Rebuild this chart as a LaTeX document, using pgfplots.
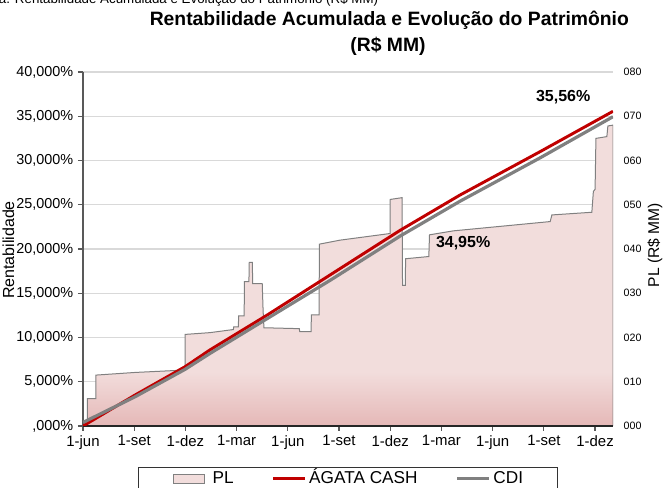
\documentclass[border=0pt]{standalone}
\usepackage{pgfplots}
\pgfplotsset{compat=1.18}
\usepackage{fontspec}
\setmainfont{Liberation Sans}
\definecolor{pllight}{RGB}{242,221,220}
\definecolor{pldark}{RGB}{229,184,183}
\definecolor{plline}{RGB}{128,128,128}
\definecolor{agred}{RGB}{192,0,0}
\definecolor{cdigray}{RGB}{128,128,128}
\definecolor{gridgray}{RGB}{217,217,217}
\definecolor{axisgray}{RGB}{89,89,89}
\pgfdeclareverticalshading{plshade}{100bp}{color(0bp)=(pldark); color(25bp)=(pldark); color(34bp)=(pllight); color(100bp)=(pllight)}
\begin{document}
\begin{tikzpicture}[x=1pt,y=1pt]
\useasboundingbox (0,0) rectangle (498.75,366);
\node[anchor=base west, font=\fontsize{10}{12}\selectfont, inner sep=0pt] at (-1,363.6) {a. Rentabilidade Acumulada e Evolução do Patrimônio (R\$ MM)};
\node[anchor=base, font=\fontsize{14.5}{17}\selectfont\bfseries, inner sep=0pt] at (292,346.5) {Rentabilidade Acumulada e Evolução do Patrimônio};
\node[anchor=base, font=\fontsize{14.5}{17}\selectfont\bfseries, inner sep=0pt] at (291,327.5) {(R\$ MM)};

\begin{axis}[
  at={(62.25pt,46.5pt)}, anchor=south west, scale only axis,
  width=397.5pt, height=265.5pt,
  xmin=0, xmax=31.05, ymin=0, ymax=80,
  hide x axis,
  axis y line*=right,
  y axis line style={draw=none},
  ytick={0,10,...,80},
  yticklabels={000,010,020,030,040,050,060,070,080},
  major tick length=0pt,
  ymajorgrids,
  grid style={gridgray, line width=1.1pt},
  yticklabel style={font=\fontsize{8}{9.6}\selectfont, xshift=4.5pt},
  ylabel={PL (R\$ MM)},
  ylabel style={at={(axis description cs:1.079,0.511)}, anchor=center, font=\fontsize{11.7}{14}\selectfont},
]
\addplot[draw=plline, line width=0.75pt, shade, shading=plshade] coordinates {
(0,0.5) (0.25,0.5) (0.25,6.2) (0.75,6.2) (0.75,11.5) (3.05,12.1) (5.99,12.65)
(5.99,20.7) (7.44,21.1) (8.81,21.8) (8.83,22.4) (9.1,22.4) (9.12,24.9) (9.44,24.9)
(9.46,32.6) (9.72,32.6) (9.74,37.0) (9.92,37.0) (9.94,32.2) (10.5,32.2) (10.55,26.2)
(10.6,22.2) (12.67,22.0) (12.7,21.3) (13.36,21.3) (13.38,25.1) (13.83,25.1)
(13.85,41.1) (15.06,42.0) (17.99,43.5) (18.0,51.2) (18.69,51.6) (18.72,31.8)
(18.88,31.8) (18.9,37.8) (20.26,38.3) (20.3,43.2) (21.7,44.1) (27.37,46.2)
(27.47,47.7) (29.81,48.3) (29.9,53.0) (30.0,53.5) (30.05,65.0) (30.69,65.4)
(30.75,67.8) (31.05,68.0)
} \closedcycle;
\end{axis}

\begin{axis}[
  at={(62.25pt,46.5pt)}, anchor=south west, scale only axis,
  width=397.5pt, height=265.5pt,
  xmin=0, xmax=31.05, ymin=0, ymax=40,
  axis x line*=bottom, axis y line*=left,
  axis line style={-, line width=1.1pt},
  x axis line style={black!85},
  y axis line style={axisgray},
  xtick={0,3,...,30},
  xticklabels={1-jun,1-set,1-dez,1-mar,1-jun,1-set,1-dez,1-mar,1-jun,1-set,1-dez},
  ytick={0,5,...,40},
  yticklabels={{,000\%},{5,000\%},{10,000\%},{15,000\%},{20,000\%},{25,000\%},{30,000\%},{35,000\%},{40,000\%}},
  tick align=outside,
  major tick length=3.75pt,
  tick style={axisgray, line width=0.9pt},
  yticklabel style={font=\fontsize{10.8}{13}\selectfont},
  xticklabel style={font=\fontsize{11.2}{13}\selectfont},
  ylabel={Rentabilidade},
  ylabel style={at={(axis description cs:-0.1406,0.497)}, anchor=center, font=\fontsize{12}{14}\selectfont},
  legend image code/.code={\draw[#1] (0pt,0pt) -- (24pt,0pt);},
  legend style={at={(axis description cs:0.5,-0.1158)}, anchor=north, legend columns=3,
    draw=black!80, line width=0.75pt, font=\fontsize{12.9}{15}\selectfont,
    inner xsep=26pt, inner ysep=2.5pt,
    nodes={inner sep=0pt, text height=9.4pt, text depth=2.4pt},
    /tikz/every odd column/.append style={column sep=2pt},
    /tikz/every even column/.append style={column sep=28.5pt}},
]
\addlegendimage{legend image code/.code={\draw[draw=plline, fill=pllight, line width=0.75pt] (0pt,-3.5pt) rectangle (23pt,3.5pt); \path (27pt,0pt);}}
\addlegendentry{PL}
\addplot[agred, line width=2.2pt] coordinates {
(0,0) (3.05,3.5) (5.98,6.7) (7.44,8.6) (10.76,12.5) (14.47,17.06) (18.57,22.1)
(22.09,26.1) (26.78,31.0) (31.05,35.56)
};
\addlegendentry{ÁGATA CASH}
\addplot[cdigray, line width=2.4pt] coordinates {
(0,0.4) (3.05,3.3) (5.98,6.4) (7.44,8.2) (10.76,12.1) (14.47,16.45) (18.57,21.45)
(22.09,25.4) (26.78,30.3) (31.05,34.95)
};
\addlegendentry{CDI}
\node[font=\fontsize{12}{14}\selectfont\bfseries] at (axis cs:28.13,37.2) {35,56\%};
\node[font=\fontsize{12}{14}\selectfont\bfseries] at (axis cs:22.27,20.7) {34,95\%};
\end{axis}
\end{tikzpicture}
\end{document}
